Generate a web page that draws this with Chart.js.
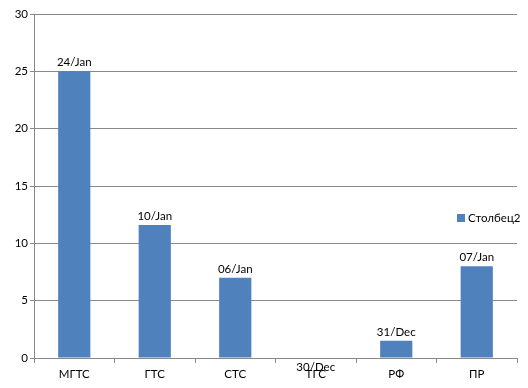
<!DOCTYPE html>
<html>
<head>
<meta charset="utf-8">
<script src="https://cdn.jsdelivr.net/npm/chart.js@4"></script>
<style>
  html, body { margin: 0; padding: 0; background: #fff; }
  #wrap { width: 528px; height: 388px; }
</style>
</head>
<body>
<div id="wrap"><canvas id="bar_chart" width="528" height="388"></canvas></div>
<script>
// categories and values
let categories = ['МГТС', 'ГТС', 'СТС', 'ТГС', 'РФ', 'ПР'];
let values = [25, 11.6, 7, 0, 1.5, 8];
// labels shown above bars (values formatted as dates)
let value_labels = ['24/Jan', '10/Jan', '06/Jan', '30/Dec', '31/Dec', '07/Jan'];
let y_ticks = [0, 5, 10, 15, 20, 25, 30];
let series_name = 'Столбец2';

const bar_color = '#4f81bd';
const grid_color = '#898989';
const font = { family: 'Lato', size: 11.5 };

// draws the date labels on top of the bars
const barLabels = {
    id: 'barLabels',
    afterDatasetsDraw(chart) {
        const ctx = chart.ctx;
        const meta = chart.getDatasetMeta(0);
        ctx.save();
        ctx.font = '11.5px Lato';
        ctx.fillStyle = '#000';
        ctx.textAlign = 'center';
        meta.data.forEach(function(bar, i) {
            if (values[i] === 0) {
                ctx.textBaseline = 'top';
                ctx.fillText(value_labels[i], bar.x, bar.y + 4);
            } else {
                ctx.textBaseline = 'bottom';
                ctx.fillText(value_labels[i], bar.x, bar.y - 3);
            }
        });
        ctx.restore();
    }
};

// legend sitting on the right side of the chart
const sideLegend = {
    id: 'sideLegend',
    afterDraw(chart) {
        const ctx = chart.ctx;
        ctx.save();
        ctx.fillStyle = bar_color;
        ctx.fillRect(457, 214, 8, 8);
        ctx.fillStyle = '#000';
        ctx.font = '11.5px Lato';
        ctx.textAlign = 'left';
        ctx.textBaseline = 'middle';
        ctx.fillText(series_name, 468, 218);
        ctx.restore();
    }
};

let ctx = document.getElementById('bar_chart');

new Chart(ctx, {
    type: 'bar',
    data: {
        labels: categories,
        datasets: [{
            label: series_name,
            data: values,
            backgroundColor: bar_color,
            borderWidth: 0,
            categoryPercentage: 1,
            barPercentage: 0.4
        }]
    },
    options: {
        responsive: false,
        animation: false,
        layout: {
            padding: { top: 14, right: 11, left: 0, bottom: 0 }
        },
        scales: {
            y: {
                min: 0,
                max: 30,
                afterBuildTicks: function(axis) {
                    axis.ticks = y_ticks.map(v => ({ value: v }));
                },
                afterFit: function(axis) { axis.width = 34; },
                grid: {
                    color: grid_color,
                    lineWidth: 1,
                    tickLength: 4
                },
                border: { color: grid_color },
                ticks: {
                    color: '#000',
                    font: font,
                    padding: 2
                }
            },
            x: {
                afterFit: function(axis) { axis.height = 30; },
                offset: true,
                grid: {
                    offset: true,
                    drawOnChartArea: false,
                    color: grid_color,
                    tickLength: 5
                },
                border: { color: grid_color },
                ticks: {
                    color: '#000',
                    font: font,
                    padding: 4
                }
            }
        },
        plugins: {
            legend: { display: false },
            tooltip: { enabled: false }
        }
    },
    plugins: [barLabels, sideLegend]
});
</script>
</body>
</html>
